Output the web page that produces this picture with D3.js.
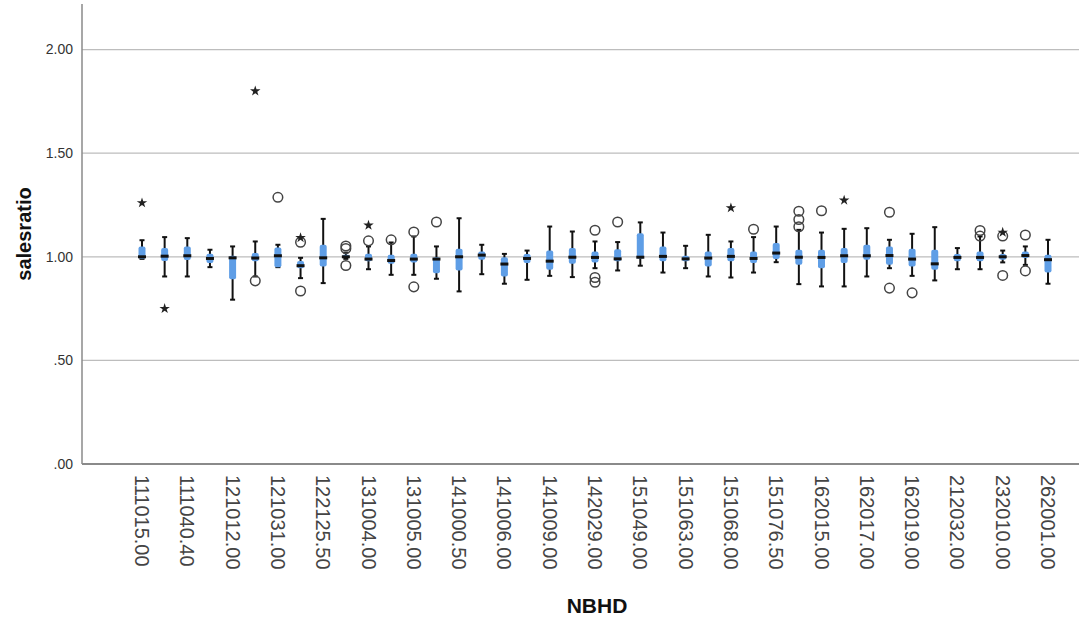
<!DOCTYPE html>
<html lang="en">
<head>
<meta charset="UTF-8">
<title>salesratio by NBHD</title>
<script src="https://cdn.jsdelivr.net/npm/d3@7"></script>
<style>
  body { margin: 0; background: #fff; }
  text { font-family: "Liberation Sans", Arial, sans-serif; }
</style>
</head>
<body>
<div id="chart"></div>
<script>
// neighbourhoods (only every other one gets a label on the axis)
var categories = [
  "111015.00","111030.00","111040.40","121001.00","121012.00","121020.00","121031.00","122100.00",
  "122125.50","131002.00","131004.00","131004.50","131005.00","131010.00","141000.50","141003.00",
  "141006.00","141008.00","141009.00","142012.00","142029.00","151045.00","151049.00","151059.00",
  "151063.00","151065.00","151068.00","151070.00","151076.50","161001.00","162015.00","162016.00",
  "162017.00","162018.00","162019.00","211001.00","212032.00","232002.00","232010.00","232014.00",
  "262001.00"
];
var whiskerLow = [0.99,0.905,0.905,0.95,0.793,0.905,0.95,0.897,0.873,0.99,0.94,0.913,0.913,0.894,0.833,0.916,
  0.87,0.889,0.908,0.902,0.945,0.934,0.957,0.924,0.945,0.905,0.90,0.924,0.974,0.868,0.857,0.857,
  0.905,0.945,0.908,0.886,0.94,0.94,0.973,0.961,0.87];
var q1 = [0.99,0.98,0.985,0.97,0.892,0.978,0.95,0.945,0.953,0.995,0.978,0.966,0.973,0.921,0.934,0.986,
  0.905,0.97,0.937,0.966,0.973,0.978,0.99,0.978,0.978,0.953,0.978,0.97,0.989,0.961,0.945,0.97,
  0.986,0.961,0.953,0.937,0.978,0.978,0.986,0.994,0.924];
var median = [1.0,1.003,1.005,0.992,0.995,0.994,1.005,0.957,0.995,1.0,0.989,0.982,0.989,0.989,1.0,1.008,
  0.965,0.992,0.979,0.998,0.997,0.99,0.998,1.002,0.99,0.994,1.002,0.992,1.018,0.998,0.997,1.005,
  1.005,1.006,0.989,0.966,0.997,0.997,1.0,1.006,0.986];
var q3 = [1.05,1.042,1.05,1.015,1.005,1.018,1.045,0.98,1.058,1.01,1.015,1.01,1.015,0.998,1.039,1.026,
  0.998,1.014,1.03,1.042,1.026,1.037,1.114,1.05,1.005,1.026,1.042,1.026,1.066,1.034,1.034,1.042,
  1.058,1.05,1.039,1.034,1.014,1.026,1.014,1.026,1.01];
var whiskerHigh = [1.08,1.095,1.09,1.034,1.05,1.074,1.058,0.995,1.183,1.02,1.05,1.069,1.098,1.05,1.186,1.058,
  1.014,1.03,1.146,1.122,1.074,1.071,1.166,1.117,1.053,1.106,1.074,1.095,1.146,1.13,1.117,1.135,
  1.138,1.082,1.111,1.143,1.042,1.098,1.03,1.05,1.082];
// outliers (circles) and extremes (stars), by category index
var circles = [[],[],[],[],[],[0.884],[1.287],[1.07,0.835],[],[1.052,1.04,0.958],[1.077],[1.082],[1.12,0.855],[1.168],[],[],
  [],[],[],[],[1.128,0.90,0.877],[1.168],[],[],[],[],[],[1.133],[],[1.22,1.18,1.145],[1.222],[],
  [],[1.215,0.849],[0.826],[],[],[1.127,1.10],[1.10,0.91],[1.105,0.932],[]];
var stars = [[1.26],[0.75],[],[],[],[1.80],[],[1.092],[],[],[1.152],[],[],[],[],[],
  [],[],[],[],[],[],[],[],[],[],[1.236],[],[],[],[],[1.273],
  [],[],[],[],[],[],[1.118],[],[]];
var yTicks = [0, 0.5, 1, 1.5, 2];
var yTickLabels = [".00", ".50", "1.00", "1.50", "2.00"];

var width = 1079, height = 621;
var svg = d3.select("#chart").append("svg").attr("width", width).attr("height", height);

var x = d3.scalePoint().domain(categories).range([142, 1048]);
var y = d3.scaleLinear().domain([0, 2.22]).range([464, 4]);
var plotLeft = 82, plotRight = 1079;

// grid lines
svg.selectAll("line.grid").data(yTicks.slice(1)).enter().append("line")
  .attr("class", "grid")
  .attr("x1", plotLeft).attr("x2", plotRight)
  .attr("y1", function(d){ return y(d); }).attr("y2", function(d){ return y(d); })
  .attr("stroke", "#bdbdbd").attr("stroke-width", 1.2);

// axes lines
svg.append("line").attr("x1", plotLeft).attr("x2", plotLeft).attr("y1", y(0)).attr("y2", y(2.22))
  .attr("stroke", "#8a8a8a").attr("stroke-width", 1.5);
svg.append("line").attr("x1", plotLeft).attr("x2", plotRight).attr("y1", y(0)).attr("y2", y(0))
  .attr("stroke", "#8a8a8a").attr("stroke-width", 2);

// y tick labels
svg.selectAll("text.ytick").data(yTicks).enter().append("text")
  .attr("class", "ytick")
  .attr("x", 73).attr("y", function(d){ return y(d); }).attr("dy", "0.35em")
  .attr("text-anchor", "end").attr("font-size", 14).attr("fill", "#333")
  .text(function(d, i){ return yTickLabels[i]; });

// x tick labels, every other category
svg.selectAll("text.xtick").data(categories.filter(function(d, i){ return i % 2 === 0; })).enter().append("text")
  .attr("class", "xtick")
  .attr("transform", function(d){ return "translate(" + x(d) + ",475) rotate(90)"; })
  .attr("dy", "0.35em").attr("text-anchor", "start")
  .attr("font-size", 20).attr("fill", "#444")
  .text(function(d){ return d; });

// axis titles
svg.append("text").attr("transform", "translate(31,234) rotate(-90)")
  .attr("text-anchor", "middle").attr("font-size", 20).attr("font-weight", "bold").attr("fill", "#111")
  .text("salesratio");
svg.append("text").attr("x", 597).attr("y", 613)
  .attr("text-anchor", "middle").attr("font-size", 21).attr("font-weight", "bold").attr("fill", "#111")
  .text("NBHD");

// boxes
var g = svg.selectAll("g.box").data(categories).enter().append("g").attr("class", "box");

g.append("line")
  .attr("x1", function(d){ return x(d); }).attr("x2", function(d){ return x(d); })
  .attr("y1", function(d, i){ return y(whiskerLow[i]); }).attr("y2", function(d, i){ return y(whiskerHigh[i]); })
  .attr("stroke", "#111").attr("stroke-width", 2);
g.selectAll("line.cap").data(function(d, i){ return [whiskerLow[i], whiskerHigh[i]].map(function(v){ return {c: d, v: v}; }); })
  .enter().append("line").attr("class", "cap")
  .attr("x1", function(d){ return x(d.c) - 2.5; }).attr("x2", function(d){ return x(d.c) + 2.5; })
  .attr("y1", function(d){ return y(d.v); }).attr("y2", function(d){ return y(d.v); })
  .attr("stroke", "#111").attr("stroke-width", 2);
g.append("rect")
  .attr("x", function(d){ return x(d) - 3.5; }).attr("width", 7)
  .attr("y", function(d, i){ return y(q3[i]); })
  .attr("height", function(d, i){ return Math.max(1, y(q1[i]) - y(q3[i])); })
  .attr("rx", 2)
  .attr("fill", "#5f9ee6");
g.append("rect")
  .attr("x", function(d){ return x(d) - 4; }).attr("width", 8)
  .attr("y", function(d, i){ return y(median[i]) - 1.5; }).attr("height", 3)
  .attr("fill", "#111");

// outliers
g.selectAll("circle").data(function(d, i){ return circles[i].map(function(v){ return {c: d, v: v}; }); })
  .enter().append("circle")
  .attr("cx", function(d){ return x(d.c); }).attr("cy", function(d){ return y(d.v); })
  .attr("r", 4.8).attr("fill", "none").attr("stroke", "#444").attr("stroke-width", 1.5);

var star = d3.symbol().type(d3.symbolStar).size(34);
g.selectAll("path.star").data(function(d, i){ return stars[i].map(function(v){ return {c: d, v: v}; }); })
  .enter().append("path").attr("class", "star")
  .attr("transform", function(d){ return "translate(" + x(d.c) + "," + y(d.v) + ")"; })
  .attr("d", star).attr("fill", "#222");
</script>
</body>
</html>
